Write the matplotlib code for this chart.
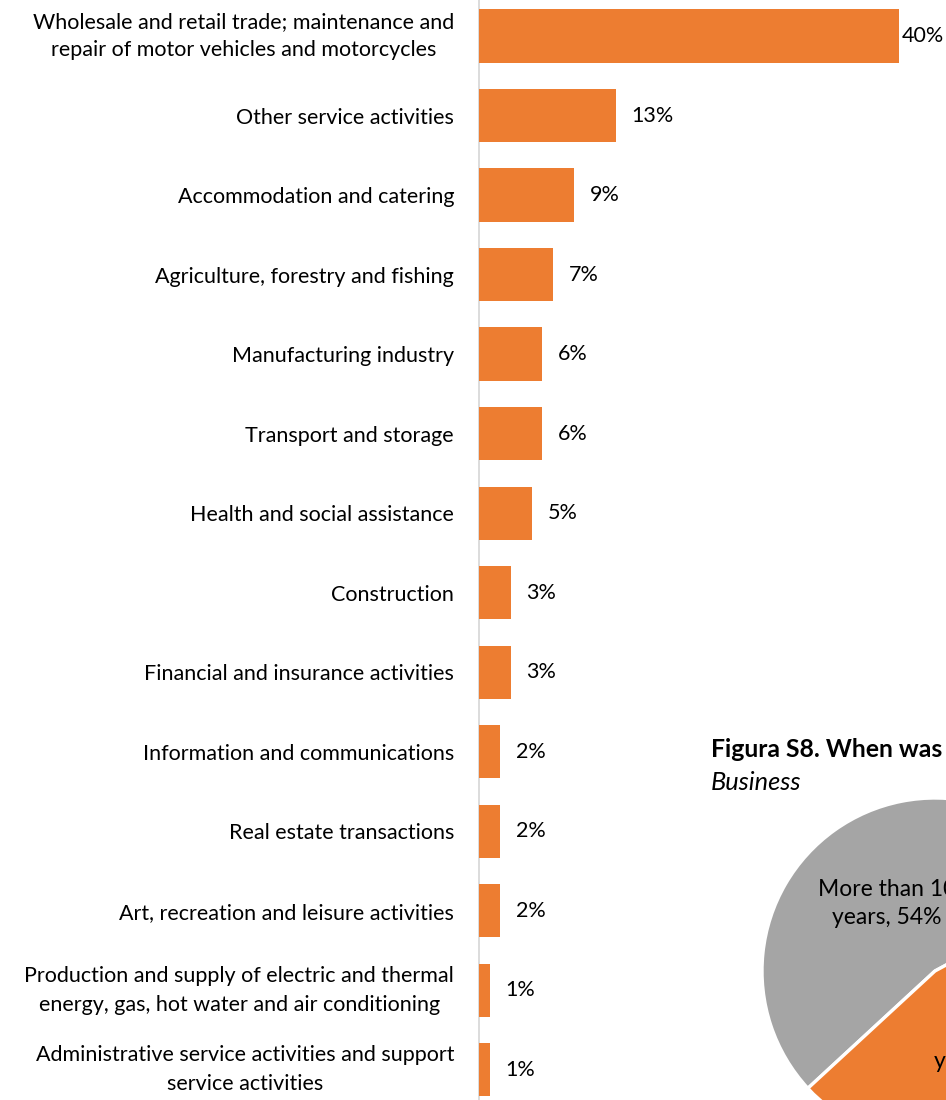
import math
import matplotlib
matplotlib.use("Agg")
import matplotlib.pyplot as plt

# Sector shares (percent)
sectors = [
    "Wholesale and retail trade; maintenance and\nrepair of motor vehicles and motorcycles",
    "Other service activities",
    "Accommodation and catering",
    "Agriculture, forestry and fishing",
    "Manufacturing industry",
    "Transport and storage",
    "Health and social assistance",
    "Construction",
    "Financial and insurance activities",
    "Information and communications",
    "Real estate transactions",
    "Art, recreation and leisure activities",
    "Production and supply of electric and thermal\nenergy, gas, hot water and air conditioning",
    "Administrative service activities and support\nservice activities",
]
shares = [40, 13, 9, 7, 6, 6, 5, 3, 3, 2, 2, 2, 1, 1]

# Business age
age_groups = ["More than 10\nyears", "3 to 10\nyears"]
age_shares = [54, 46]

ORANGE = "#ED7D31"
GREY = "#A5A5A5"
FONT = ["Lato", "DejaVu Sans"]

plt.rcParams["font.family"] = FONT

W, H = 946, 1100
fig = plt.figure(figsize=(W / 100, H / 100), dpi=100)

# ---- horizontal bar chart ----
ax_left = 479
ax = fig.add_axes([ax_left / W, 0, (W - ax_left) / W, 1])
pos = list(range(len(sectors)))
ax.barh(pos, shares, height=0.67, color=ORANGE, zorder=3)
ax.set_xlim(0, (W - ax_left) / 10.5)
ax.set_ylim(13.38, -0.453)
for s in ("top", "right", "bottom"):
    ax.spines[s].set_visible(False)
ax.spines["left"].set_color("#D9D9D9")
ax.spines["left"].set_linewidth(1.3)
ax.set_xticks([])
ax.set_yticks(pos)
ax.set_yticklabels(sectors, fontsize=15.5, color="#000000", linespacing=1.55)
for t in ax.get_yticklabels():
    t.set_multialignment("center")
    if "\n" in t.get_text():
        t.set_verticalalignment("center")
ax.tick_params(axis="y", length=0, pad=18)

top = max(shares)
for p, v in zip(pos, shares):
    off = 3 if v == top else 16
    ax.annotate(f"{v}%", (v, p), xytext=(off * 0.72, 0), textcoords="offset points",
                ha="left", va="center", fontsize=15.5, color="#000000")

# ---- pie chart ----
cx, cy, r = 935, 971, 173
pax = fig.add_axes([(cx - r) / W, (H - cy - r) / H, 2 * r / W, 2 * r / H])
wedges, _ = pax.pie(age_shares, colors=[GREY, ORANGE], startangle=28.3,
                    counterclock=True,
                    wedgeprops=dict(edgecolor="white", linewidth=2.4))
pax.set_xlim(-1, 1)
pax.set_ylim(-1, 1)
for w, lab, v, d in zip(wedges, age_groups, age_shares, (0.48, 0.54)):
    mid = math.radians((w.theta1 + w.theta2) / 2)
    pax.text(d * math.cos(mid), d * math.sin(mid), f"{lab}, {v}%",
             ha="center", va="center", multialignment="center",
             fontsize=16.5, color="#000000", linespacing=1.45)

fig.text(711 / W, 1 - 757 / H, "Figura S8. When was the business established?",
         fontsize=17.8, fontweight="bold", va="baseline", ha="left")
fig.text(711 / W, 1 - 790 / H, "Business", fontsize=18.3, fontstyle="italic",
         va="baseline", ha="left")

fig.savefig("out.png", dpi=100)
